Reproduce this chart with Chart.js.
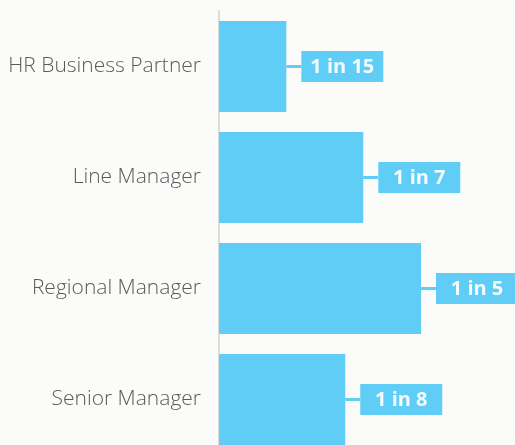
<!DOCTYPE html>
<html>
<head>
<meta charset="utf-8">
<script src="https://cdn.jsdelivr.net/npm/chart.js@4/dist/chart.umd.min.js"></script>
<style>
  html, body { margin: 0; padding: 0; background: #fbfbfa; overflow: hidden; }
  canvas { display: block; }
</style>
</head>
<body>
<canvas id="chart" width="515" height="466"></canvas>
<script>
// Roles and "1 in N" odds for each
const roles = ['HR Business Partner', 'Line Manager', 'Regional Manager', 'Senior Manager'];
const oddsN = [15, 7, 5, 8];
const shares = oddsN.map(n => 1 / n);
const valueLabels = oddsN.map(n => '1 in ' + n);

const BLUE = '#60cdf6';

// Draws the "1 in N" tag with a short connector to the right of each bar
const tagPlugin = {
  id: 'oddsTags',
  afterDatasetsDraw(chart) {
    const ctx = chart.ctx;
    const meta = chart.getDatasetMeta(0);
    ctx.save();
    meta.data.forEach((bar, i) => {
      const gap = 15, w = 82, h = 31;
      const x0 = bar.x + gap;
      const y0 = bar.y - h / 2;
      ctx.fillStyle = BLUE;
      ctx.fillRect(bar.x, bar.y - 1.5, gap, 3);
      ctx.fillRect(x0, y0, w, h);
      ctx.fillStyle = '#f4fbff';
      ctx.font = 'bold 20px "Open Sans"';
      ctx.textAlign = 'center';
      ctx.textBaseline = 'middle';
      ctx.fillText(valueLabels[i], x0 + w / 2, bar.y + 1);
    });
    ctx.restore();
  }
};

new Chart(document.getElementById('chart'), {
  type: 'bar',
  data: {
    labels: roles,
    datasets: [{
      data: shares,
      backgroundColor: BLUE,
      borderWidth: 0,
      categoryPercentage: 1,
      barPercentage: 0.82
    }]
  },
  options: {
    indexAxis: 'y',
    responsive: false,
    animation: false,
    layout: { padding: { top: 11, bottom: 11, left: 0, right: 0 } },
    plugins: { legend: { display: false }, tooltip: { enabled: false } },
    scales: {
      x: {
        display: false,
        min: 0,
        max: 0.2 * 296 / 202
      },
      y: {
        grid: { display: false, drawTicks: false },
        border: { display: true, color: '#dcdcdc', width: 2 },
        ticks: {
          padding: 18,
          color: '#5a5a5a',
          font: { family: '"Open Sans"', size: 21, weight: 300 }
        },
        afterFit(scale) {
          scale.width = 219;
          scale.paddingTop = 0;
          scale.paddingBottom = 0;
        }
      }
    }
  },
  plugins: [tagPlugin]
});
</script>
</body>
</html>
